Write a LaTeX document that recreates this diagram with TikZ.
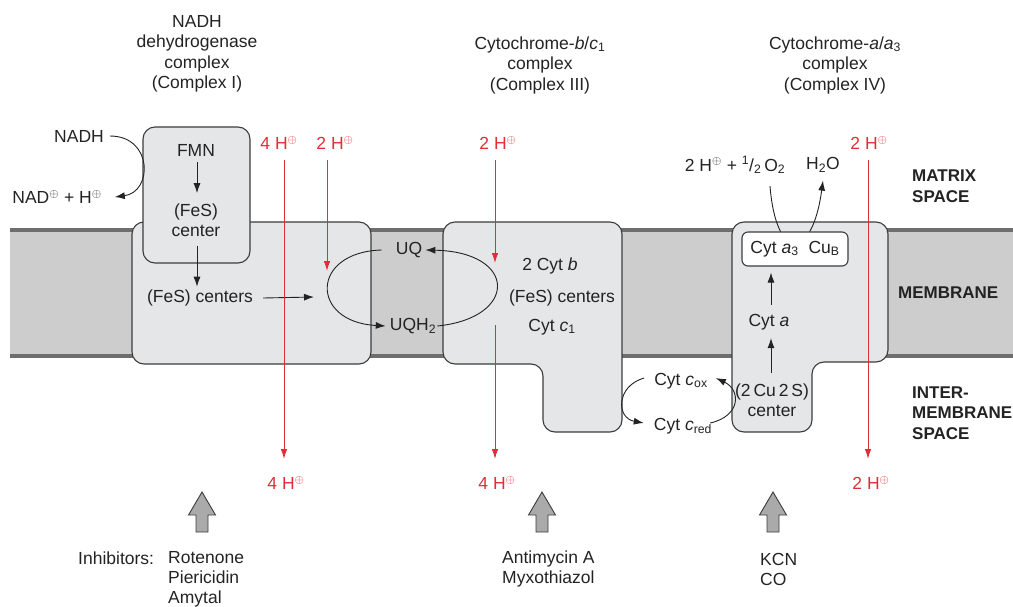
\documentclass[tikz,border=0pt]{standalone}
\usepackage{fontspec}
\setmainfont{Liberation Sans}
\usetikzlibrary{arrows.meta}
\definecolor{memfill}{RGB}{205,205,205}
\definecolor{memline}{RGB}{110,110,110}
\definecolor{boxfill}{RGB}{229,230,232}
\definecolor{boxline}{RGB}{60,60,60}
\definecolor{hred}{RGB}{225,45,55}
\definecolor{txt}{RGB}{35,35,35}
\definecolor{blockfill}{RGB}{170,170,170}
\newcommand{\Hp}{H$^{\oplus}$}
\begin{document}
\begin{tikzpicture}[x=1pt,y=-1pt,
  every node/.style={inner sep=0pt, text=txt, font=\fontsize{17.5}{20.5}\selectfont},
  redlbl/.style={text=hred},
  boldlbl/.style={font=\fontsize{17}{20.5}\selectfont\bfseries, align=left, anchor=west},
  cbox/.style={draw=boxline, fill=boxfill, line width=1.1pt, rounded corners=12pt},
  arr/.style={draw=txt, line width=0.9pt, -{Latex[length=10pt,width=7pt]}},
  redarr/.style={draw=hred, line width=0.9pt, -{Latex[length=10pt,width=6.5pt]}},
  block/.style={draw=boxline, fill=blockfill, line width=0.9pt},
]
\useasboundingbox (0,0) rectangle (1013,607);
% membrane
\fill[memfill] (10,230) rectangle (1013,356);
\draw[memline, line width=3.5pt] (10,230) -- (1013,230) (10,356) -- (1013,356);
% complexes
\path[cbox] (132,222) rectangle (371,364);
\path[cbox] (143,127) rectangle (250,263);
\path[cbox] (443,222) -- (622,222) -- (622,432) -- (543,432) -- (543,364) -- (443,364) -- cycle;
\path[cbox] (732,222) -- (888,222) -- (888,362) -- (812,362) -- (812,432) -- (732,432) -- cycle;
% titles
\node[align=center] (t1) at (197,54) {NADH\\dehydrogenase\\complex\\(Complex I)};
\node[align=center] (t3) at (540,65) {Cytochrome-\textit{b}/\textit{c}\textsubscript{1}\\complex\\(Complex III)};
\node[align=center] (t4) at (835,65) {Cytochrome-\textit{a}/\textit{a}\textsubscript{3}\\complex\\(Complex IV)};
% complex I
\node (nadh) at (79,136) {NADH};
\node (nad) at (57,197) {NAD$^{\oplus}$ + \Hp};
\node (fmn) at (196,150) {FMN};
\node[align=center] (fesc) at (196,220) {(FeS)\\center};
\node (fescs) at (200,298) {(FeS) centers};
\coordinate (lp) at (314,297);
\coordinate (fx) at (197,0);
\draw[arr] ([xshift=6pt]nadh.east) .. controls (153,136) and (153,192) .. ([xshift=13pt]nad.east);
\draw[arr, shorten <=6pt, shorten >=10pt] (fmn.south -| fx) -- (fesc.north -| fx);
\draw[arr, shorten <=9pt, shorten >=3pt] (fesc.south -| fx) -- (fescs.north -| fx);
\draw[arr] ([xshift=10pt]fescs.east) -- (lp);
% ubiquinone loop
\node (uq) at (409,250) {UQ};
\node (uqh2) at (413,326) {UQH\textsubscript{2}};
\draw[arr] ([xshift=-14pt]uq.west) .. controls (310,252) and (310,322) .. ([xshift=-4pt]uqh2.west);
\draw[arr] ([xshift=1pt]uqh2.east) .. controls (518,318) and (518,252) .. ([xshift=3pt]uq.east);
% complex III
\node (cytb) at (550,266) {2 Cyt \textit{b}};
\node (fes3) at (562,298) {(FeS) centers};
\node (cytc1) at (552,327) {Cyt \textit{c}\textsubscript{1}};
% cytochrome c
\node (cox) at (681,381) {Cyt \textit{c}\textsubscript{ox}};
\node (cred) at (683,426) {Cyt \textit{c}\textsubscript{red}};
\draw[arr] ([xshift=-10pt,yshift=3pt]cox.west) .. controls (616,386) and (616,418) .. ([xshift=-10pt,yshift=3pt]cred.west);
\draw[arr] ([xshift=-2pt,yshift=3pt]cred.east) .. controls (741,416) and (741,390) .. ([xshift=8pt,yshift=3pt]cox.east);
% complex IV
\node (o2) at (735,165) {2 \Hp{} + \textsuperscript{1}/\textsubscript{2}\,O\textsubscript{2}};
\node (h2o) at (823,165) {H\textsubscript{2}O};
\draw[arr] (770,186) .. controls (776,262) and (812,262) .. ([yshift=-8pt]h2o.south);
\node[draw=boxline, fill=white, line width=1.1pt, rounded corners=6pt, minimum width=106pt, minimum height=34pt] (a3) at (795,249) {Cyt \textit{a}\textsubscript{3}\hspace{10pt}Cu\textsubscript{B}};
\node (cyta) at (769,322) {Cyt \textit{a}};
\node[align=center] (cu2s) at (772,400) {(2\,Cu\,2\,S)\\center};
\coordinate (ax) at (771,0);
\draw[arr, shorten <=10pt, shorten >=8pt] (cu2s.north -| ax) -- (cyta.south -| ax);
\draw[arr, shorten <=9pt, shorten >=6pt] (cyta.north -| ax) -- (a3.south -| ax);
% protons
\node[redlbl] (h4a) at (279,143) {4 \Hp};
\node[redlbl] (h2a) at (335,143) {2 \Hp};
\node[redlbl] (h2b) at (498,143) {2 \Hp};
\node[redlbl] (h2c) at (869,143) {2 \Hp};
\node[redlbl] (h4b) at (286,483) {4 \Hp};
\node[redlbl] (h4c) at (497,483) {4 \Hp};
\node[redlbl] (h2d) at (871,483) {2 \Hp};
\coordinate (r1s) at (284,160); \coordinate (r1e) at (284,459);
\coordinate (r2s) at (327,160); \coordinate (r2e) at (327,271);
\coordinate (r3s) at (495,160); \coordinate (r3e) at (495,263);
\coordinate (r4s) at (495,325); \coordinate (r4e) at (495,459);
\coordinate (r5s) at (868,160); \coordinate (r5e) at (868,459);
\draw[redarr] (r1s) -- (r1e);
\draw[redarr] (r2s) -- (r2e);
\draw[redarr] (r3s) -- (r3e);
\draw[redarr] (r4s) -- (r4e);
\draw[redarr] (r5s) -- (r5e);
% region labels
\node[boldlbl] (matrix) at (912,186) {MATRIX\\SPACE};
\node[boldlbl] (memb) at (898,293) {MEMBRANE};
\node[boldlbl] (inter) at (912,413) {INTER-\\MEMBRANE\\SPACE};
% inhibitors
\foreach \cx in {202,542,773} {
  \path[block] (\cx,492) -- (\cx+13.5,515) -- (\cx+6,515) -- (\cx+6,532) -- (\cx-6,532) -- (\cx-6,515) -- (\cx-13.5,515) -- cycle;
}
\node[anchor=west] (inh) at (78,558) {Inhibitors:};
\node[anchor=west, align=left, font=\fontsize{17.5}{20}\selectfont] (rot) at (168,579) {Rotenone\\Piericidin\\Amytal};
\node[anchor=west, align=left, font=\fontsize{17.5}{20}\selectfont] (anti) at (502,569) {Antimycin A\\Myxothiazol};
\node[anchor=west, align=left, font=\fontsize{17.5}{20}\selectfont] (kcn) at (760,569) {KCN\\CO};
\end{tikzpicture}
\end{document}
